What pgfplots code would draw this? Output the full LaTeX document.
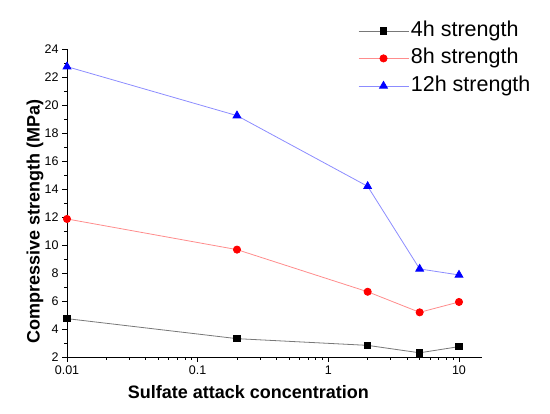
\documentclass[border=0pt]{standalone}
\usepackage{fontspec}
\setmainfont{Liberation Sans}
\usepackage{pgfplots}
\pgfplotsset{compat=1.18}
\definecolor{lgray}{RGB}{120,120,120}
\definecolor{lred}{RGB}{255,140,140}
\definecolor{lblue}{RGB}{140,140,255}
\begin{document}
\begin{tikzpicture}
\path[use as bounding box] (-67pt,-57pt) rectangle (483pt,357pt);
\begin{axis}[
  at={(0pt,0pt)}, anchor=south west,
  scale only axis, width=415pt, height=308pt,
  xmode=log, xmin=0.01, xmax=15,
  ymin=2, ymax=24,
  ytick={2,4,...,24}, minor y tick num=1,
  xtick={0.01,0.1,1,10}, xticklabels={0.01,0.1,1,10},
  axis x line*=bottom, axis y line*=left,
  axis line style={-, line width=0.8pt},
  tick align=outside,
  major tick length=5pt, minor tick length=3pt,
  every tick/.style={black, line width=0.7pt},
  /pgf/number format/assume math mode=true,
  ticklabel style={font=\fontsize{12.5}{14}\selectfont},
  xlabel={\textbf{Sulfate attack concentration}},
  ylabel={\textbf{Compressive strength (MPa)}},
  label style={font=\fontsize{18}{21}\selectfont},
  xlabel style={at={(axis description cs:0.437,-0.114)}, anchor=center},
  ylabel style={at={(axis description cs:-0.077,0.44)}, anchor=center},
  legend style={at={(axis description cs:0.701,1.104)}, anchor=north west,
    draw=none, fill=none, font=\fontsize{21.5}{25}\selectfont,
    row sep=0pt, inner sep=0pt,
    nodes={inner xsep=2pt, inner ysep=2.75pt, text height=16.5pt, text depth=5.5pt}},
  legend cell align=left,
  legend image code/.code={\draw[mark repeat=2,mark phase=2,#1] plot coordinates {(0pt,0pt) (25pt,0pt) (50pt,0pt)};},
]
\addplot[lgray, line width=0.8pt, mark=square*, mark size=3.2pt, mark options={black, fill=black}]
  coordinates {(0.01,4.74) (0.2,3.31) (2,2.83) (5,2.30) (10,2.74)};
\addlegendentry{4h strength}
\addplot[lred, line width=0.8pt, mark=*, mark size=3.6pt, mark options={red, fill=red}]
  coordinates {(0.01,11.86) (0.2,9.67) (2,6.66) (5,5.19) (10,5.93)};
\addlegendentry{8h strength}
\addplot[lblue, line width=0.8pt, mark=triangle*, mark size=4.5pt, mark options={blue, fill=blue}]
  coordinates {(0.01,22.74) (0.2,19.24) (2,14.19) (5,8.29) (10,7.86)};
\addlegendentry{12h strength}
\end{axis}
\end{tikzpicture}
\end{document}
